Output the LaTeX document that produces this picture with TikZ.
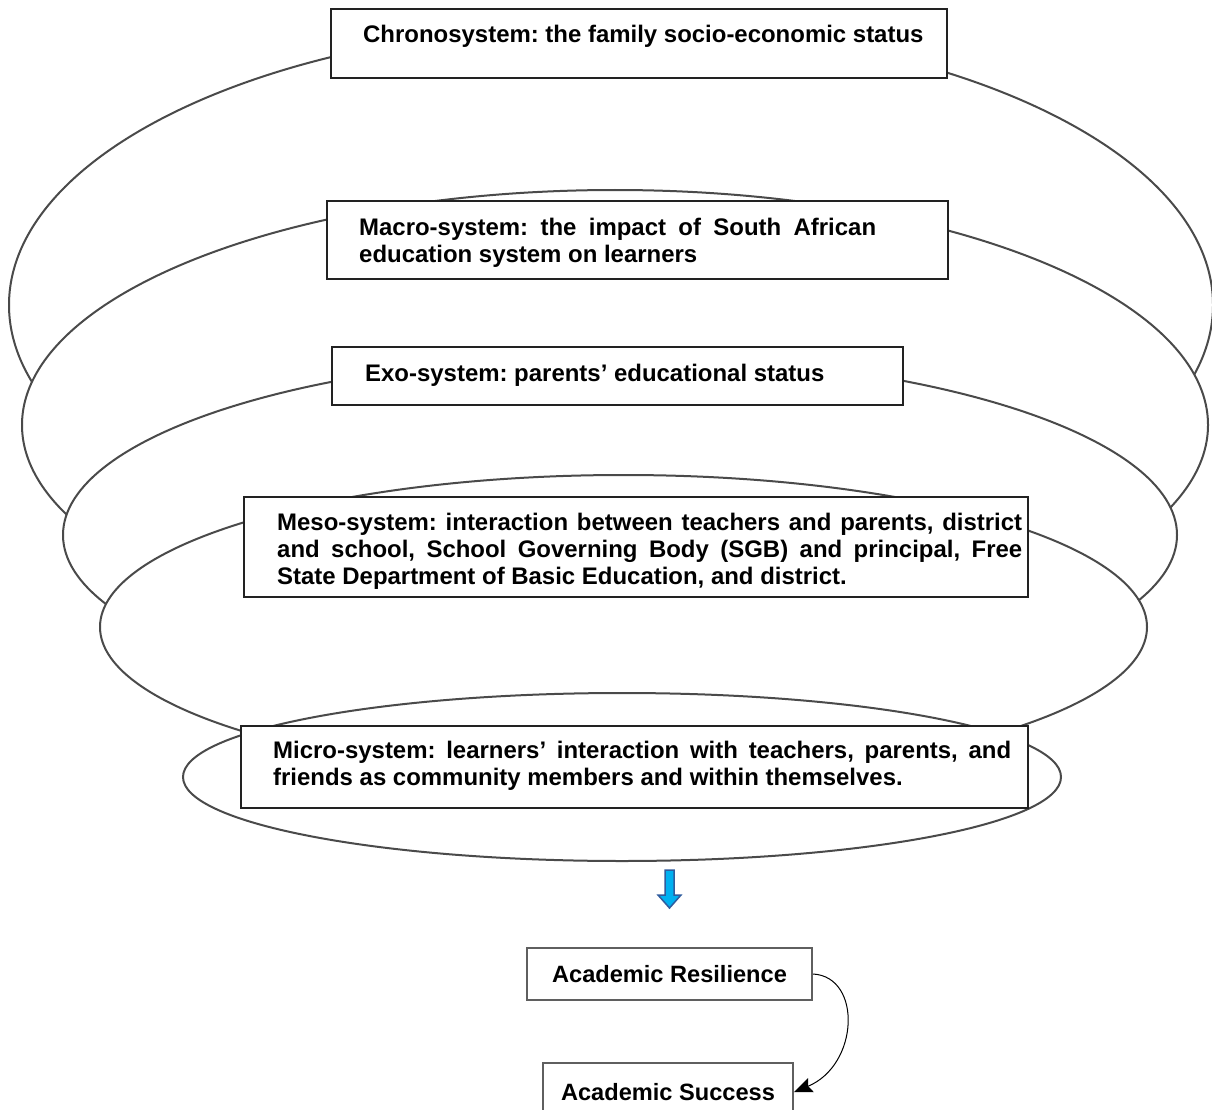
\documentclass[tikz,border=0pt]{standalone}
\usepackage{fontspec}
\setmainfont{Liberation Sans}
\usetikzlibrary{arrows.meta}
\definecolor{ellcol}{HTML}{4A4A4A}
\definecolor{boxcol}{HTML}{222222}
\definecolor{botcol}{HTML}{5F5F5F}
\definecolor{arrfill}{HTML}{00B0F0}
\definecolor{arrdraw}{HTML}{2F5C9E}
\frenchspacing
\begin{document}
\frenchspacing
\begin{tikzpicture}[x=1pt,y=-1pt,
 ell/.style={draw=ellcol,line width=2pt,fill=white},
 sysbox/.style={draw=boxcol,line width=1.4pt,fill=white,inner sep=0pt},
 txt/.style={inner sep=0pt,anchor=base west,font=\fontsize{23.95pt}{27pt}\selectfont\bfseries\frenchspacing},
 botbox/.style={draw=botcol,line width=2.4pt,fill=white,inner sep=0pt,font=\fontsize{23.6pt}{27pt}\selectfont\bfseries},
]
\clip (0,0) rectangle (1212,1110);
\fill[white] (0,0) rectangle (1212,1110);
% nested ellipses, outer first
\draw[ell] (611,305) ellipse [x radius=602pt, y radius=280pt];
\draw[ell] (615,425) ellipse [x radius=593pt, y radius=235pt];
\draw[ell] (620,535) ellipse [x radius=557pt, y radius=179pt];
\draw[ell] (623.5,627) ellipse [x radius=523.5pt, y radius=152pt];
\draw[ell] (622,777) ellipse [x radius=439pt, y radius=84pt];
% boxes
\node[sysbox, minimum width=616pt, minimum height=69pt] (chrono) at (639,43.5) {};
\node[sysbox, minimum width=621pt, minimum height=78pt] (macro) at (637.5,240) {};
\node[sysbox, minimum width=571pt, minimum height=58pt] (exo) at (617.5,376) {};
\node[sysbox, minimum width=784pt, minimum height=100pt] (meso) at (636,547) {};
\node[sysbox, minimum width=787pt, minimum height=82pt] (micro) at (634.5,767) {};
% texts
\node[txt] (chronotext) at (363,43) {Chronosystem: the family socio-economic status};
\node[txt] (macrotext) at (359,235) {\vtop{\baselineskip=28pt\hbox to 517pt{Macro-system: the impact of South African}\hbox{education system on learners}}};
\node[txt] (exotext) at (365,381) {Exo-system: parents’ educational status};
\node[txt] (mesotext) at (277,530) {\vtop{\hbox to 745pt{Meso-system: interaction between teachers and parents, district}\hbox to 745pt{and school, School Governing Body (SGB) and principal, Free}\hbox{State Department of Basic Education, and district.}}};
\node[txt] (microtext) at (273,758) {\vtop{\hbox to 738pt{Micro-system: learners’ interaction with teachers, parents, and}\hbox{friends as community members and within themselves.}}};
% block arrow
\draw[fill=arrfill, draw=arrdraw, line width=1.5pt, line join=miter] (665,870) -- (674,870) -- (674,895) -- (681,895) -- (669.5,908) -- (658,895) -- (665,895) -- cycle;
% outcome boxes
\node[botbox, minimum width=285pt, minimum height=52pt] (resil) at (669.5,974) {Academic Resilience};
\node[botbox, minimum width=250pt, minimum height=58pt] (success) at (668,1092) {Academic Success};
\draw[black, line width=1pt, -{Stealth[length=18pt,width=15pt,inset=3pt]}] (resil.east) .. controls +(49,3) and +(65,-27) .. (success.east);
\end{tikzpicture}
\end{document}
